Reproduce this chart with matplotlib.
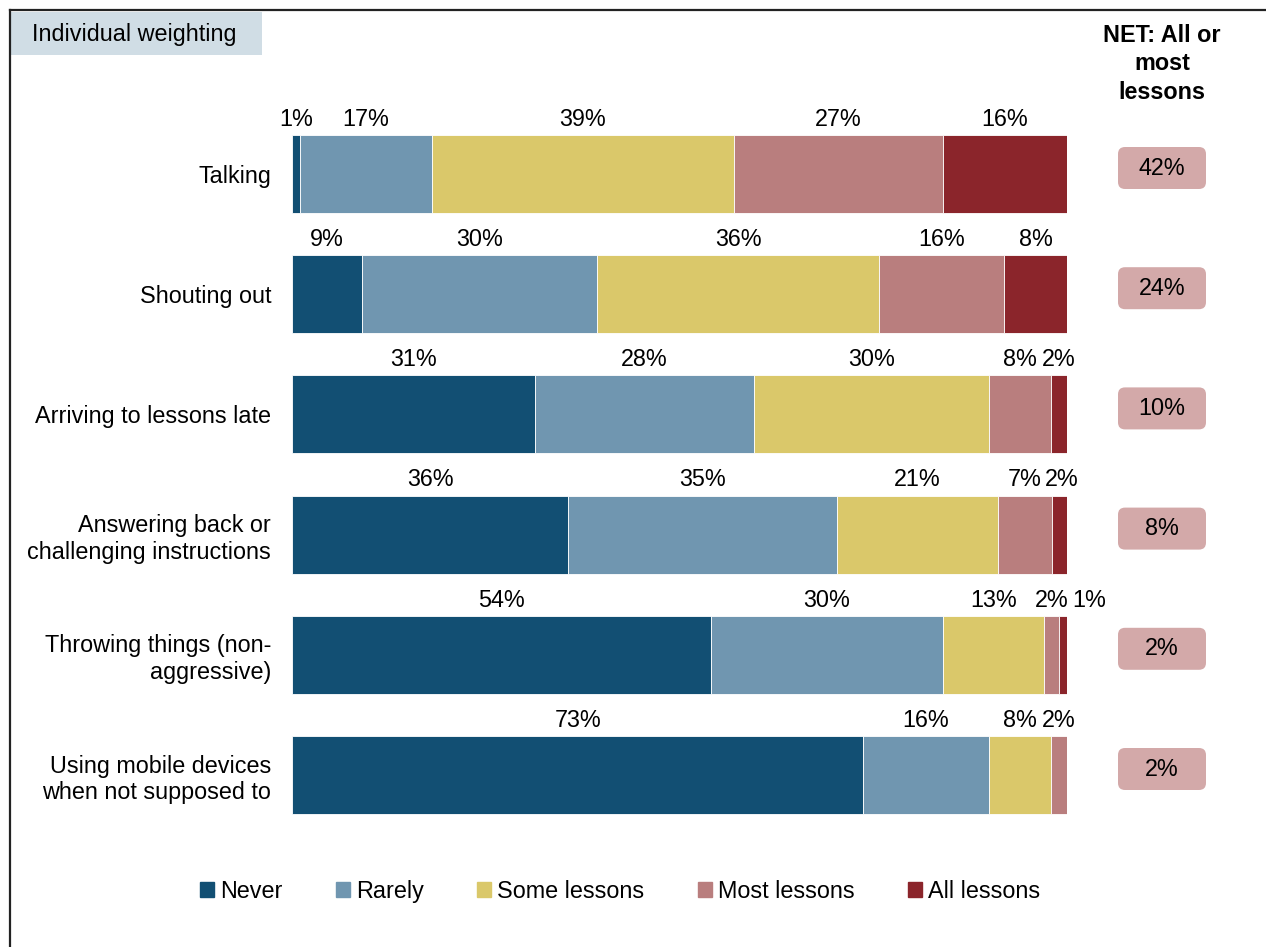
import matplotlib
matplotlib.use("Agg")
import matplotlib.pyplot as plt
from matplotlib.patches import FancyBboxPatch, Rectangle, Patch
from matplotlib.lines import Line2D
import numpy as np

plt.rcParams['font.family'] = ['Liberation Sans', 'DejaVu Sans']

categories = [
    "Talking",
    "Shouting out",
    "Arriving to lessons late",
    "Answering back or\nchallenging instructions",
    "Throwing things (non-\naggressive)",
    "Using mobile devices\nwhen not supposed to",
]
series = ["Never", "Rarely", "Some lessons", "Most lessons", "All lessons"]
never = [1, 9, 31, 36, 54, 73]
rarely = [17, 30, 28, 35, 30, 16]
some_lessons = [39, 36, 30, 21, 13, 8]
most_lessons = [27, 16, 8, 7, 2, 2]
all_lessons = [16, 8, 2, 2, 1, 0]
net_all_most = [42, 24, 10, 8, 2, 2]

colors = ["#124F73", "#7096B0", "#DAC86A", "#B97E7E", "#8B252B"]
net_color = "#D3A9A9"
fs = 16.8

W, H, DPI = 1266, 947, 100
fig = plt.figure(figsize=(W / DPI, H / DPI), dpi=DPI)

# main axes: 0..100 maps to x pixels 292..1067
ax = fig.add_axes([292 / W, 1 - 840 / H, 775 / W, 740 / H])
row_px = 120.2
ax.set_xlim(0, 100)
ax.set_ylim((840 - 174) / row_px, (100 - 174) / row_px)

data = np.array([never, rarely, some_lessons, most_lessons, all_lessons], dtype=float)
shares = data / data.sum(axis=0) * 100  # bars always fill the full width
y = np.arange(len(categories))
bar_h = 0.65

left = np.zeros(len(categories))
for k, name in enumerate(series):
    ax.barh(y, shares[k], left=left, height=bar_h, color=colors[k],
            edgecolor="white", linewidth=0.6, label=name)
    left += shares[k]

# value labels above segments, nudged apart when they would overlap
min_gap = 4.8
for i in range(len(categories)):
    starts = np.concatenate([[0], np.cumsum(shares[:, i])[:-1]])
    xs, txts = [], []
    for k in range(len(series)):
        if data[k, i] == 0:
            continue
        xs.append(starts[k] + shares[k, i] / 2)
        txts.append(f"{int(data[k, i])}%")
    for j in range(1, len(xs)):
        if xs[j] - xs[j - 1] < min_gap:
            xs[j] = xs[j - 1] + min_gap
    for xv, t in zip(xs, txts):
        ax.annotate(t, (xv, i - bar_h / 2), xytext=(0, 3), textcoords="offset points",
                    ha="center", va="bottom", fontsize=fs, annotation_clip=False)

ax.set_yticks(y)
ax.set_yticklabels(categories, fontsize=fs, multialignment="right")
ax.tick_params(axis="y", length=0, pad=15)
ax.set_xticks([])
for s in ax.spines.values():
    s.set_visible(False)

# NET column
fig.text(1162 / W, 1 - 24 / H, "NET: All or\nmost\nlessons", ha="center", va="top",
         fontsize=fs, fontweight="bold", linespacing=1.3)
box_w, box_h = 0.88, 0.42
for i, v in enumerate(net_all_most):
    yc = ax.transData.transform((0, i))[1] / DPI + 0.06
    xc = 1162 / DPI
    fig.patches.append(FancyBboxPatch((xc - box_w / 2, yc - box_h / 2), box_w, box_h,
                                      boxstyle="round,pad=0,rounding_size=0.07",
                                      fc=net_color, ec="none",
                                      transform=fig.dpi_scale_trans, figure=fig))
    fig.text(xc, yc, f"{v}%", ha="center", va="center", fontsize=fs,
             transform=fig.dpi_scale_trans)

# header tag and frame
fig.patches.append(Rectangle((11 / W, 1 - 55 / H), 251 / W, 43 / H, fc="#D0DDE5",
                             ec="none", transform=fig.transFigure, figure=fig))
fig.text(32 / W, 1 - 34 / H, "Individual weighting", ha="left", va="center", fontsize=fs)
fig.lines.append(Line2D([10 / W, 1], [1 - 10 / H, 1 - 10 / H], color="#222222", lw=1.6,
                        transform=fig.transFigure, figure=fig))
fig.lines.append(Line2D([10 / W, 10 / W], [0, 1 - 10 / H], color="#222222", lw=1.6,
                        transform=fig.transFigure, figure=fig))

handles = [Patch(color=c, label=n) for c, n in zip(colors, series)]
fig.legend(handles=handles, loc="center", bbox_to_anchor=(620 / W, 1 - 891 / H), ncol=5,
           frameon=False, fontsize=fs, handlelength=0.6, handleheight=0.6,
           handletextpad=0.25, columnspacing=2.3)

fig.savefig("out.png", dpi=DPI)
